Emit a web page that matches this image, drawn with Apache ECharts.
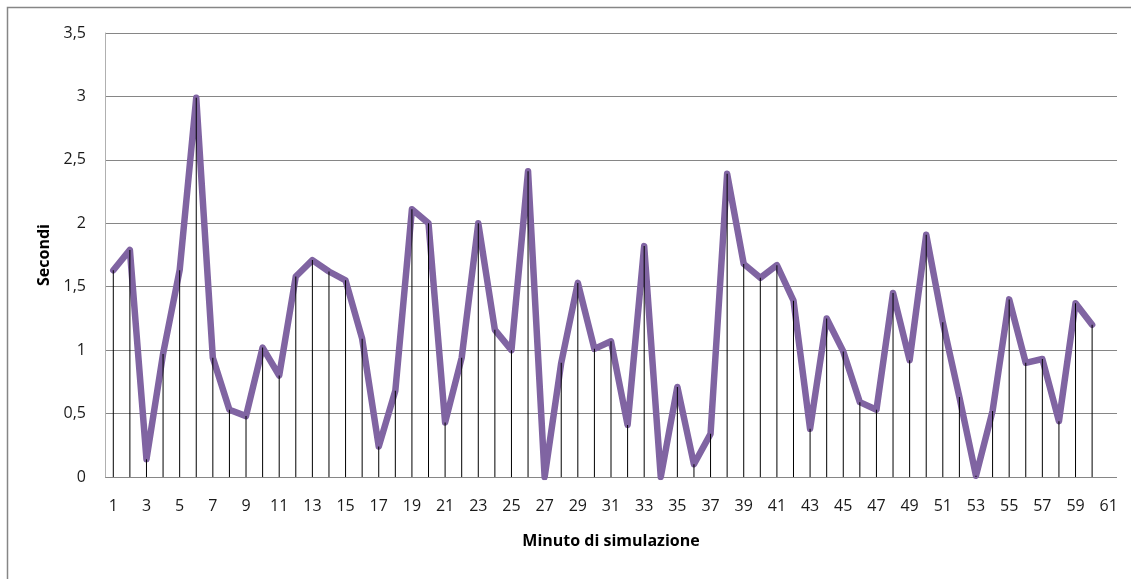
<!DOCTYPE html>
<html>
<head>
<meta charset="utf-8">
<script src="https://cdn.jsdelivr.net/npm/echarts@6/dist/echarts.min.js"></script>
<style>
html,body{margin:0;padding:0;background:#fff;}
#chart{width:1131px;height:579px;}
</style>
</head>
<body>
<div id="chart"></div>
<script>
// Categories: simulation minutes 1..61
const minutes = ['1','2','3','4','5','6','7','8','9','10','11','12','13','14','15','16','17','18','19','20',
  '21','22','23','24','25','26','27','28','29','30','31','32','33','34','35','36','37','38','39','40',
  '41','42','43','44','45','46','47','48','49','50','51','52','53','54','55','56','57','58','59','60','61'];
// Seconds per minute (60 values)
const seconds = [1.63, 1.79, 0.14, 0.97, 1.63, 2.99, 0.94, 0.53, 0.48, 1.02,
  0.80, 1.58, 1.71, 1.62, 1.55, 1.09, 0.24, 0.68, 2.11, 2.00,
  0.43, 0.94, 2.00, 1.16, 1.00, 2.41, 0.00, 0.90, 1.53, 1.01,
  1.07, 0.41, 1.82, 0.00, 0.71, 0.10, 0.34, 2.39, 1.68, 1.57,
  1.67, 1.39, 0.38, 1.25, 0.99, 0.59, 0.53, 1.45, 0.92, 1.91,
  1.22, 0.63, 0.01, 0.52, 1.40, 0.90, 0.93, 0.44, 1.37, 1.20];
const yTicks = [0, 0.5, 1, 1.5, 2, 2.5, 3, 3.5];

const chart = echarts.init(document.getElementById('chart'));
const font = '"Open Sans", "Noto Sans", sans-serif';
chart.setOption({
  backgroundColor: '#fff',
  animation: false,
  graphic: [{
    type: 'rect',
    shape: {x: 7.5, y: 7.5, width: 1140, height: 600},
    style: {fill: 'none', stroke: '#868686', lineWidth: 1.5},
    silent: true
  }],
  grid: {left: 105, right: 14, top: 33, bottom: 102, containLabel: false},
  xAxis: {
    type: 'category',
    data: minutes,
    boundaryGap: true,
    name: 'Minuto di simulazione',
    nameLocation: 'middle',
    nameGap: 56,
    nameTextStyle: {fontFamily: font, fontSize: 16, fontWeight: 'bold', color: '#000'},
    axisLine: {show: false},
    axisTick: {show: false},
    axisLabel: {interval: 1, fontFamily: font, fontSize: 16, color: '#1a1a1a', margin: 21},
    splitLine: {show: false}
  },
  yAxis: {
    type: 'value',
    min: yTicks[0],
    max: yTicks[yTicks.length - 1],
    interval: 0.5,
    name: 'Secondi',
    nameLocation: 'middle',
    nameGap: 52,
    nameTextStyle: {fontFamily: font, fontSize: 16, fontWeight: 'bold', color: '#000'},
    axisLine: {show: true, lineStyle: {color: '#b0b0b0', width: 1}},
    axisTick: {show: false},
    axisLabel: {
      fontFamily: font, fontSize: 16, color: '#1a1a1a', margin: 19,
      formatter: v => String(v).replace('.', ',')
    },
    splitLine: {show: true, lineStyle: {color: '#868686', width: 1}}
  },
  series: [
    {
      type: 'line',
      data: seconds,
      symbol: 'none',
      lineStyle: {color: '#8064A2', width: 6.5, join: 'round', cap: 'round'},
      z: 2
    },
    {
      type: 'bar',
      data: seconds,
      barWidth: 1,
      itemStyle: {color: '#000'},
      z: 3,
      silent: true
    }
  ]
});
</script>
</body>
</html>
